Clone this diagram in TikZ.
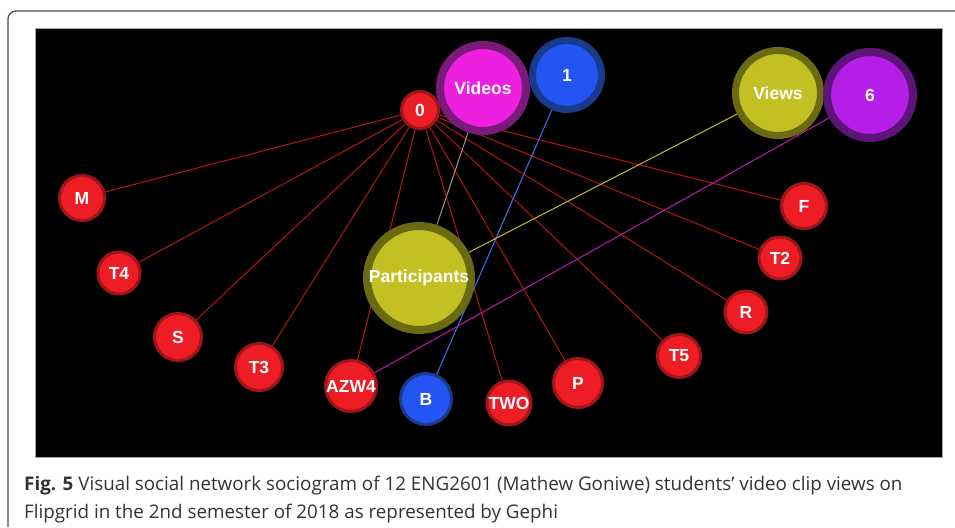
\documentclass[tikz,border=0pt]{standalone}
\usepackage{fontspec}
\setmainfont{Open Sans}
\newfontfamily\lab{Liberation Sans}
\usetikzlibrary{backgrounds}
\definecolor{nred}{HTML}{EE1C24}
\definecolor{nredring}{HTML}{A01518}
\definecolor{ered}{HTML}{B81414}
\definecolor{nblue}{HTML}{2255F2}
\definecolor{nbluering}{HTML}{1A3A8C}
\definecolor{nolive}{HTML}{C2C022}
\definecolor{nolivering}{HTML}{6A6A12}
\definecolor{nmag}{HTML}{EC20DE}
\definecolor{nmagring}{HTML}{7A1A7A}
\definecolor{npur}{HTML}{B41EE8}
\definecolor{npurring}{HTML}{5C1478}
\definecolor{captext}{HTML}{333333}
\definecolor{vpedge}{HTML}{A88A92}
\tikzset{
  x=1pt,y=-1pt,
  gnode/.style={circle,inner sep=0pt,text=white,font=\lab\bfseries\fontsize{17.5}{17.5}\selectfont},
  rednode/.style={gnode,fill=nred,draw=nredring,line width=3pt,minimum size=#1},
  bignode/.style n args={3}{gnode,fill=#1,draw=#2,line width=8pt,minimum size=#3},
  rededge/.style={draw=ered,line width=1pt},
  captxt/.style={anchor=base west,inner sep=0pt,text=captext,font=\fontsize{18.8}{22}\selectfont},
}
\begin{document}
\begin{tikzpicture}
\useasboundingbox (0,0) rectangle (955,527);
% frame
\draw[captext!90,line width=1.2pt] (8,527) -- (8,19) arc[start angle=180,end angle=270,radius=8] -- (956,11);
% nodes
\node[rednode=37pt] (n0) at (420,110) {0};
\node[bignode={nmag}{nmagring}{86pt}] (videos) at (483,88) {Videos};
\node[bignode={nblue}{nbluering}{69pt},line width=7pt] (n1) at (567,75) {1};
\node[bignode={nolive}{nolivering}{85pt},line width=7pt] (views) at (778,93) {Views};
\node[bignode={npur}{npurring}{86pt}] (n6) at (870,95) {6};
\node[bignode={nolive}{nolivering}{104pt}] (part) at (419,278) {Participants};
\node[rednode=45pt] (M) at (82,198) {M};
\node[rednode=42pt] (T4) at (119,273) {T4};
\node[rednode=47pt] (S) at (178,337) {S};
\node[rednode=47pt] (T3) at (259,367) {T3};
\node[rednode=49pt] (AZW4) at (351,386) {AZW4};
\node[gnode,fill=nblue,draw=nbluering,line width=3pt,minimum size=51pt] (B) at (426,399) {B};
\node[rednode=44pt] (TWO) at (509,403) {TWO};
\node[rednode=49pt] (P) at (578,383) {P};
\node[rednode=43pt] (T5) at (679,356) {T5};
\node[rednode=42pt] (R) at (746,312) {R};
\node[rednode=42pt] (T2) at (780,258) {T2};
\node[rednode=45pt] (F) at (804,206) {F};
% background and edges
\begin{scope}[on background layer]
\fill[black] (35,28) rectangle (942,457);
\draw[gray!70,line width=0.8pt] (35,28) rectangle (942,457);
\foreach \t in {M,T4,S,T3,AZW4,TWO,P,T5,R,T2,F}
  \draw[rededge] (n0) -- (\t);
\draw[draw=nblue!85!white,line width=1pt] (n1) -- (B);
\draw[draw=nolive,line width=1pt] (views) -- (part);
\draw[draw=nmag!80!black,line width=1pt] (n6) -- (AZW4);
\draw[draw=vpedge,line width=1pt] (videos) -- (part);
\end{scope}
% caption
\node[captxt] (cap1) at (24,490)
  {\textbf{Fig. 5} Visual social network sociogram of 12 ENG2601 (Mathew Goniwe) students’ video clip views on};
\node[captxt] (cap2) at (24,518)
  {Flipgrid in the 2nd semester of 2018 as represented by Gephi};
\end{tikzpicture}
\end{document}
